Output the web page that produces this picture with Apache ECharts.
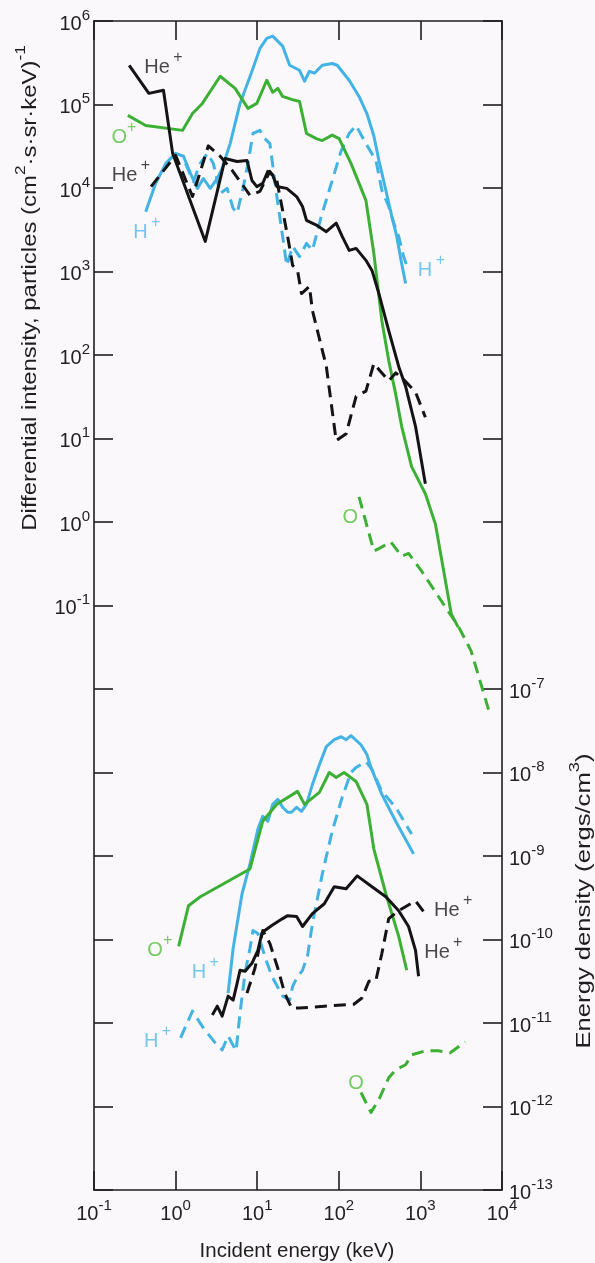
<!DOCTYPE html>
<html><head><meta charset="utf-8">
<script src="https://cdn.jsdelivr.net/npm/echarts@6/dist/echarts.min.js"></script>
<style>html,body{margin:0;padding:0;background:#fbf8fb;}#c{width:595px;height:1263px;}</style>
</head><body><div id="c"></div>
<script>
// ---------- DATA: [energy keV, value] ----------
// Top panel: differential intensity (cm^2 s sr keV)^-1
const heTopSolid = [[0.27,2.95e5],[0.47,1.36e5],[0.71,1.48e5],[0.92,2.6e4],[2.31,2.29e3],[4.05,2.26e4],[5.67,2.08e4],[7.5,2.14e4],[8.62,1.23e4],[9.9,1.04e4],[11.7,1.14e4],[13.5,1.58e4],[15.5,1.42e4],[17.4,1.04e4],[23.0,9.9e3],[30.4,7.9e3],[35.9,6.0e3],[40.2,4.1e3],[53.1,3.6e3],[70.3,3.0e3],[92.9,3.8e3],[110,2.63e3],[134,1.79e3],[163,1.89e3],[215,1.36e3],[255,1.03e3],[310,545],[409,196],[542,73],[659,42],[871,14],[1150,2.87]];
const heTopDashed = [[0.50,1.04e4],[1.0,2.46e4],[1.61,7.9e3],[2.52,3.2e4],[3.52,2.4e4],[4.93,1.63e4],[8.15,8.2e3],[10.8,9.1e3],[14.3,1.58e4],[17.4,1.23e4],[20.5,5.4e3],[23.6,2.63e3],[27.2,1.18e3],[31.2,1.03e3],[34.9,545],[43.7,661],[47.5,341],[70.3,73],[92.9,9.4],[123,11.4],[163,32],[215,37],[269,79],[327,63],[409,49],[498,61],[623,51],[871,36],[1150,18]];
const oPlusTop = [[0.26,7.4e4],[0.43,5.6e4],[1.22,4.9e4],[1.61,7.8e4],[2.13,1.03e5],[3.52,2.18e5],[5.36,1.56e5],[7.71,9.0e4],[9.9,1.03e5],[13.1,1.95e5],[15.5,1.40e5],[17.9,1.56e5],[20.5,1.25e5],[26.4,1.15e5],[33.0,1.09e5],[40.2,4.5e4],[53.1,3.9e4],[62.8,3.7e4],[83.1,4.3e4],[101,3.9e4],[141,1.97e4],[215,7.1e3],[269,1.64e3],[337,258],[409,86],[498,34],[589,14],[780,4.6],[1150,2.18],[1525,0.95],[2390,0.079],[2900,0.055]];
const hPlusTopSolid = [[0.43,5.2e3],[0.57,1.14e4],[0.76,1.97e4],[1.0,2.6e4],[1.25,2.4e4],[1.52,1.5e4],[1.85,9.9e3],[2.19,1.3e4],[2.66,9.9e3],[3.24,1.3e4],[3.72,1.72e4],[4.66,3.4e4],[6.16,1.03e5],[8.87,2.7e5],[10.8,4.7e5],[13.1,6.2e5],[15.5,6.58e5],[20.5,5.0e5],[25.0,2.95e5],[33.0,2.57e5],[38.0,1.9e5],[43.7,2.5e5],[50.2,2.37e5],[62.8,2.95e5],[83.1,3.1e5],[95.6,2.95e5],[134,1.95e5],[177,1.25e5],[221,7.8e4],[269,4.2e4],[310,2.14e4],[377,9.4e3],[446,4.6e3],[513,2.63e3],[589,1.25e3],[659,718]];
const hPlusTopDashed = [[1.32,1.97e4],[1.65,1.2e4],[2.01,1.97e4],[2.45,2.6e4],[2.9,1.97e4],[3.52,8.6e3],[4.28,9.9e3],[5.07,5.7e3],[5.67,5.0e3],[6.7,9.9e3],[7.71,1.97e4],[8.87,4.5e4],[10.8,4.9e4],[12.4,3.9e4],[14.3,3.4e4],[17.4,7.9e3],[20.5,2.63e3],[23.0,1.18e3],[27.2,2.0e3],[33.0,1.51e3],[40.2,2.17e3],[47.5,1.79e3],[61.1,4.6e3],[76.4,9.4e3],[107,2.8e4],[134,4.5e4],[163,5.6e4],[215,3.4e4],[285,2.14e4],[337,9.4e3],[409,6.0e3],[471,3.8e3],[542,2.63e3],[623,1.51e3],[716,1.03e3]];
const oTopDashed = [[177,2.0],[221,0.90],[269,0.45],[310,0.48],[433,0.58],[589,0.39],[716,0.42],[1030,0.26],[2020,0.096],[2900,0.057],[4180,0.0286],[7110,0.005]];
// Bottom panel: energy density (ergs/cm^3)
const hPlusBotSolid = [[4.40,2.28e-11],[5.07,7.8e-11],[6.52,3.53e-10],[8.15,8.0e-10],[10.2,2.1e-9],[11.7,2.99e-9],[13.5,2.61e-9],[15.5,4.16e-9],[17.9,4.77e-9],[20.5,3.83e-9],[23.6,3.34e-9],[26.4,3.34e-9],[30.4,3.83e-9],[34.9,3.43e-9],[40.2,4.16e-9],[47.5,7.2e-9],[57.8,1.24e-8],[70.3,2.04e-8],[87.9,2.47e-8],[107,2.68e-8],[123,2.47e-8],[141,2.76e-8],[187,2.15e-8],[221,1.64e-8],[248,1.15e-8],[337,5.47e-9],[498,2.61e-9],[824,1.06e-9]];
const hPlusBotDashed = [[1.15,6.63e-12],[1.61,1.39e-11],[2.19,8.7e-12],[3.06,5.78e-12],[3.72,4.77e-12],[4.40,7.0e-12],[5.51,4.64e-12],[6.16,1.32e-11],[7.09,3.94e-11],[8.15,7.8e-11],[8.87,1.28e-10],[10.2,1.18e-10],[12.4,6.28e-11],[15.1,3.63e-11],[20.5,2.1e-11],[25.0,1.88e-11],[27.2,2.75e-11],[30.4,3.43e-11],[35.9,4.28e-11],[41.3,6.28e-11],[47.5,1.55e-10],[62.8,6.1e-10],[83.1,1.99e-9],[110,5.04e-9],[141,1e-8],[163,1.15e-8],[215,1.35e-8],[255,1.09e-8],[337,5.95e-9],[498,3.83e-9],[780,1.83e-9]];
const oPlusBot = [[1.09,8.26e-11],[1.44,2.54e-10],[2.01,3.25e-10],[8.15,7.0e-10],[11.7,2.61e-9],[17.4,4.16e-9],[31.2,5.94e-9],[38.0,4.16e-9],[57.8,5.78e-9],[76.4,1e-8],[92.9,8.7e-9],[116,1e-8],[163,7.8e-9],[221,4.16e-9],[269,1.21e-9],[377,3.53e-10],[542,1.09e-10],[680,4.28e-11]];
const heBotSolid = [[2.82,1.25e-11],[3.24,1.59e-11],[3.72,1.21e-11],[4.40,2.1e-11],[5.07,1.88e-11],[5.67,2.99e-11],[6.16,4.28e-11],[7.09,4.16e-11],[8.62,5.18e-11],[10.2,7.4e-11],[11.4,1.18e-10],[12.4,1.28e-10],[15.1,1.47e-10],[20.5,1.78e-10],[23.6,1.93e-10],[30.4,1.88e-10],[35.9,1.43e-10],[47.5,2.04e-10],[66.4,2.68e-10],[87.9,4.28e-10],[123,4.05e-10],[168,5.78e-10],[255,4.28e-10],[377,3.25e-10],[542,2.21e-10],[716,1.43e-10],[871,7.4e-11],[950,3.63e-11]];
const heBotDashed = [[7.5,2.28e-11],[9.38,4.52e-11],[11.7,1.28e-10],[14.3,8.96e-11],[17.9,4.52e-11],[21.7,2.28e-11],[26.4,1.51e-11],[33.0,1.51e-11],[66.4,1.59e-11],[153,1.68e-11],[192,1.99e-11],[234,3.16e-11],[285,3.24e-11],[337,6.8e-11],[409,1.78e-10],[542,2.21e-10],[871,2.91e-10],[1190,1.93e-10]];
const oBotDashed = [[187,1.47e-12],[221,1.06e-12],[248,8.5e-13],[310,1.21e-12],[409,2.21e-12],[498,2.75e-12],[659,3.16e-12],[780,4.16e-12],[1150,4.64e-12],[1660,4.64e-12],[2320,4.4e-12],[3530,5.94e-12]];
// Curve labels: [base, superscript, energy, value, colour key]
const labelsTop = [['He','+',0.71,3.12e5,'k'],['O','+',0.233,4.5e4,'g'],['He','+',0.284,1.58e4,'k'],['H','+',0.444,3.28e3,'c'],['H','+',1365,1.15e3,'c'],['O','',138,1.25,'g']];
const labelsBot = [['O','+',0.64,8.26e-11,'g'],['H','+',2.31,4.52e-11,'c'],['H','+',0.60,6.63e-12,'c'],['He','+',2525,2.47e-10,'k'],['He','+',1910,7.8e-11,'k'],['O','',163,2.09e-12,'g']];

// ---------- STYLE ----------
const FONT = "'Liberation Sans', Arial, Helvetica, sans-serif";
const COL = {k:'#141414', g:'#3cb034', c:'#42b3e4'};
const TXT = {k:'#1a1a1a', g:'#55be3c', c:'#52b9e8'};
const DASH = [12, 7];

function line(data, key, dashed, yIdx, z) {
  return {type:'line', data, xAxisIndex:0, yAxisIndex:yIdx, symbol:'none', showSymbol:false, silent:true, z:z||2,
    lineStyle:{color:COL[key], width:3, type: dashed ? DASH : 'solid', join:'round', cap:'butt'}};
}
function labels(items, yIdx) {
  return {type:'scatter', xAxisIndex:0, yAxisIndex:yIdx, symbolSize:0, silent:true, z:5,
    data: items.map(it => ({value:[it[2], it[3]], label:{show:true, position:'inside', color:TXT[it[4]],
      formatter: it[1] ? '{b|' + it[0] + '}' + (it[0]==='O' ? '' : ' ') + '{s|' + it[1] + '}' : '{b|' + it[0] + '}',
      rich:{b:{fontSize:20, fontFamily:FONT, color:TXT[it[4]], lineHeight:28, verticalAlign:'bottom'},
            s:{fontSize:16, fontFamily:FONT, color:TXT[it[4]], lineHeight:28, verticalAlign:'top'}}}}))};
}
const expRich = {
  b:{fontSize:20, fontFamily:FONT, color:'#222', lineHeight:26, verticalAlign:'bottom'},
  s:{fontSize:15, fontFamily:FONT, color:'#222', lineHeight:26, verticalAlign:'top'}
};
function expLabel(v) { const e = Math.round(Math.log10(v)); return '{b|10}{s|' + e + '}'; }

const axisLine = {show:true, lineStyle:{color:'#1e1e1e', width:1.6}};
const axisTick = {show:true, inside:true, length:19, lineStyle:{color:'#1e1e1e', width:1.6}};
const nameRich = {
  b:{fontSize:21, fontFamily:FONT, fill:'#1e1e1e', lineHeight:27, verticalAlign:'bottom'},
  s:{fontSize:15, fontFamily:FONT, fill:'#1e1e1e', lineHeight:27, verticalAlign:'top'}
};

const chart = echarts.init(document.getElementById('c'), null, {renderer:'canvas'});
chart.setOption({
  animation:false,
  backgroundColor:'#fbf8fb',
  grid:{left:94, right:93, top:21, bottom:73, containLabel:false, outerBoundsMode:'none'},
  xAxis:[
    {type:'log', logBase:10, min:0.1, max:1e4, interval:1, position:'bottom', axisLine, axisTick,
     splitLine:{show:false}, minorTick:{show:false},
     axisLabel:{margin:8, formatter:expLabel, rich:expRich}},
    {type:'log', logBase:10, min:0.1, max:1e4, interval:1, position:'top', axisLine, axisTick,
     splitLine:{show:false}, axisLabel:{show:false}}
  ],
  yAxis:[
    {type:'log', logBase:10, min:1e-8, max:1e6, interval:1, position:'left', axisLine, axisTick,
     splitLine:{show:false}, minorTick:{show:false},
     axisLabel:{margin:4, formatter:v => Math.round(Math.log10(v)) >= -1 ? expLabel(v) : '', rich:expRich}},
    {type:'log', logBase:10, min:1e-13, max:1e1, interval:1, position:'right', axisLine, axisTick,
     splitLine:{show:false}, minorTick:{show:false},
     axisLabel:{margin:7, formatter:v => Math.round(Math.log10(v)) <= -7 ? expLabel(v) : '', rich:expRich}}
  ],
  graphic:[
    {type:'text', x:27, y:288, rotation:Math.PI/2, scaleX:1.14, silent:true,
     style:{text:'{b|Differential intensity, particles (cm}{s|2}{b|·s·sr·keV)}{s|-1}', align:'center', verticalAlign:'middle', rich:nameRich}},
    {type:'text', x:581, y:901, rotation:Math.PI/2, scaleX:1.22, silent:true,
     style:{text:'{b|Energy density (ergs/cm}{s|3}{b|)}', align:'center', verticalAlign:'middle', rich:nameRich}},
    {type:'text', x:297, y:1251, silent:true,
     style:{text:'Incident energy (keV)', fontSize:20.5, fontFamily:FONT, fill:'#1e1e1e', align:'center', verticalAlign:'middle'}}
  ],
  series:[
    line(hPlusTopSolid,'c',false,0,2), line(hPlusTopDashed,'c',true,0,2),
    line(oPlusTop,'g',false,0,3), line(oTopDashed,'g',true,0,3),
    line(heTopSolid,'k',false,0,4), line(heTopDashed,'k',true,0,4),
    line(hPlusBotSolid,'c',false,1,2), line(hPlusBotDashed,'c',true,1,2),
    line(oPlusBot,'g',false,1,3), line(oBotDashed,'g',true,1,3),
    line(heBotSolid,'k',false,1,4), line(heBotDashed,'k',true,1,4),
    labels(labelsTop,0), labels(labelsBot,1)
  ]
});
</script></body></html>
